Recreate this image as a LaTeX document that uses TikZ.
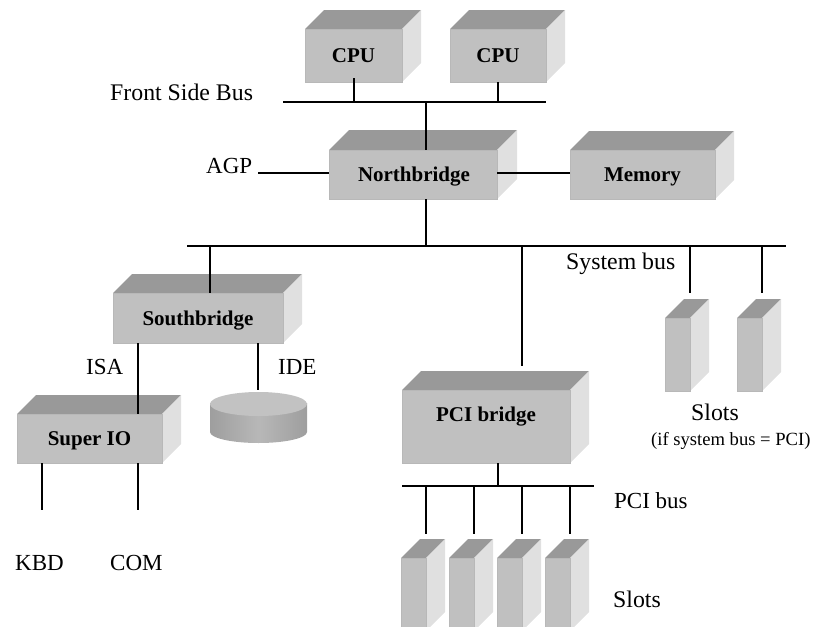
\documentclass[tikz,border=0pt]{standalone}
\usepackage{fontspec}
\usetikzlibrary{calc}
\setmainfont{Liberation Serif}
\definecolor{faceF}{HTML}{C0C0C0}
\definecolor{faceE}{HTML}{B8B8B8}
\definecolor{faceT}{HTML}{999999}
\definecolor{faceR}{HTML}{E0E0E0}
\tikzset{
  wire/.style={draw=black,line width=2.4pt},
  lbl/.style={anchor=base west,inner sep=0pt,font=\fontsize{23.8}{25}\selectfont},
  lblb/.style={anchor=base west,inner sep=0pt,font=\fontsize{23}{25}\selectfont},
  smalllbl/.style={anchor=base west,inner sep=0pt,font=\fontsize{18.6}{20}\selectfont},
  boldtxt/.style={inner sep=0pt,font=\fontsize{21}{23}\selectfont\bfseries},
  front/.style={fill=faceF,draw=faceE,line width=1pt,inner sep=0pt,outer sep=0pt,
    text height=14pt,text depth=0pt,font=\fontsize{21}{23}\selectfont\bfseries}
}
% \blockbox{name}{x0}{y0}{x1}{y1}{d}{text}
\newcommand{\blockbox}[7]{%
  \fill[faceT] (#2,#3) -- (#2+#6,#3-#6) -- (#4+#6,#3-#6) -- (#4,#3) -- cycle;
  \fill[faceR] (#4,#3) -- (#4+#6,#3-#6) -- (#4+#6,#5-#6) -- (#4,#5) -- cycle;
  \pgfmathsetmacro{\bw}{#4-#2}\pgfmathsetmacro{\bh}{#5-#3}%
  \node[front,minimum width=\bw pt,minimum height=\bh pt] (#1) at ({(#2+#4)/2},{(#3+#5)/2}) {#7};
}
\begin{document}
\begin{tikzpicture}[x=1pt,y=-1pt]
\useasboundingbox (0,0) rectangle (831,627);
\clip (0,0) rectangle (831,627);

\blockbox{cpuA}{305}{29}{402}{82}{19}{CPU}
\blockbox{cpuB}{450}{29}{546}{82}{19}{CPU}
\blockbox{north}{329}{150}{497}{199}{20}{\hspace{2pt}Northbridge}
\blockbox{mem}{570}{150}{715}{199}{19}{Memory}
\blockbox{south}{113}{293}{283}{343}{19}{Southbridge}
\blockbox{sio}{17}{414}{162}{463}{19}{Super IO}
\blockbox{pcib}{402}{390}{570}{463}{19}{}
\node[boldtxt,anchor=base] (pcibT) at (486,421) {PCI bridge};
\blockbox{slA}{665}{318}{690}{391}{19}{}
\blockbox{slB}{737}{318}{762}{391}{19}{}
\blockbox{pA}{401}{558}{426}{631}{19}{}
\blockbox{pB}{449}{558}{474}{631}{19}{}
\blockbox{pC}{497}{558}{522}{631}{19}{}
\blockbox{pD}{545}{558}{570}{631}{19}{}

% disk
\shade[left color=black!38,right color=black!38,middle color=black!28]
  (210,403) -- (210,432) arc[start angle=180,end angle=0,x radius=48.5,y radius=11] -- (307,403) -- cycle;
\fill[black!24] (258.5,404) ellipse[x radius=48.5,y radius=12];
\node[inner sep=0pt,outer sep=0pt] (disk) at (258,390) {};

% bus bars
\coordinate (fsbL) at (283,102); \coordinate (fsbR) at (546,102);
\coordinate (sysL) at (187,246); \coordinate (sysR) at (786,246);
\coordinate (pciL) at (402,486); \coordinate (pciR) at (594,486);
\coordinate (agpEnd) at (258,173);
\draw[wire] (fsbL) -- (fsbR);
\draw[wire] (sysL) -- (sysR);
\draw[wire] (pciL) -- (pciR);

% tap points
\coordinate (tA) at (354,78);
\coordinate (tB) at (498,82);
\coordinate (tN) at (426,102);
\coordinate (tS) at (210,246);
\coordinate (tP) at (522,246);
\coordinate (tPe) at (522,366);
\coordinate (tI) at (138,343);
\coordinate (tK) at (42,510);
\coordinate (tC) at (138,510);
\coordinate (tB2) at (498,486);

% connectors
\draw[wire] (tA) -- (tA |- fsbL);
\draw[wire] (tB) -- (tB |- fsbL);
\draw[wire] (tN) -- (tN |- north.north);
\draw[wire] (agpEnd) -- (agpEnd -| north.west);
\draw[wire] (north.east |- agpEnd) -- (mem.west |- agpEnd);
\draw[wire] (tN |- north.south) -- (tN |- sysL);
\draw[wire] (tS) -- (tS |- south.north);
\draw[wire] (tP) -- (tPe);
\draw[wire] (slA.north east |- sysL) -- (slA.north east |- 0,293);
\draw[wire] (slB.north east |- sysL) -- (slB.north east |- 0,293);
\draw[wire] (tI) -- (tI |- sio.north);
\draw[wire] (disk.north |- south.south) -- (disk.north);
\draw[wire] (tK |- sio.south) -- (tK);
\draw[wire] (tC |- sio.south) -- (tC);
\draw[wire] (tB2 |- pcib.south) -- (tB2);
\draw[wire] (pA.north east |- pciL) -- (pA.north east |- 0,534);
\draw[wire] (pB.north east |- pciL) -- (pB.north east |- 0,534);
\draw[wire] (pC.north east |- pciL) -- (pC.north east |- 0,534);
\draw[wire] (pD.north east |- pciL) -- (pD.north east |- 0,534);

% labels
\node[lbl] (tFSB) at (110,100) {Front Side Bus};
\node[lblb] (tAGP) at (206,173) {AGP};
\node[lbl] (tSys) at (566,269) {System bus};
\node[lblb] (tISA) at (86,374) {ISA};
\node[lblb] (tIDE) at (278,374) {IDE};
\node[lblb] (tKBD) at (15,570) {KBD};
\node[lblb] (tCOM) at (110,570) {COM};
\node[lbl] (tSlotsA) at (691,420) {Slots};
\node[smalllbl] (tCond) at (651,445) {(if system bus = PCI)};
\node[lblb] (tPCI) at (614,508) {PCI bus};
\node[lbl] (tSlotsB) at (613,607) {Slots};
\end{tikzpicture}
\end{document}
